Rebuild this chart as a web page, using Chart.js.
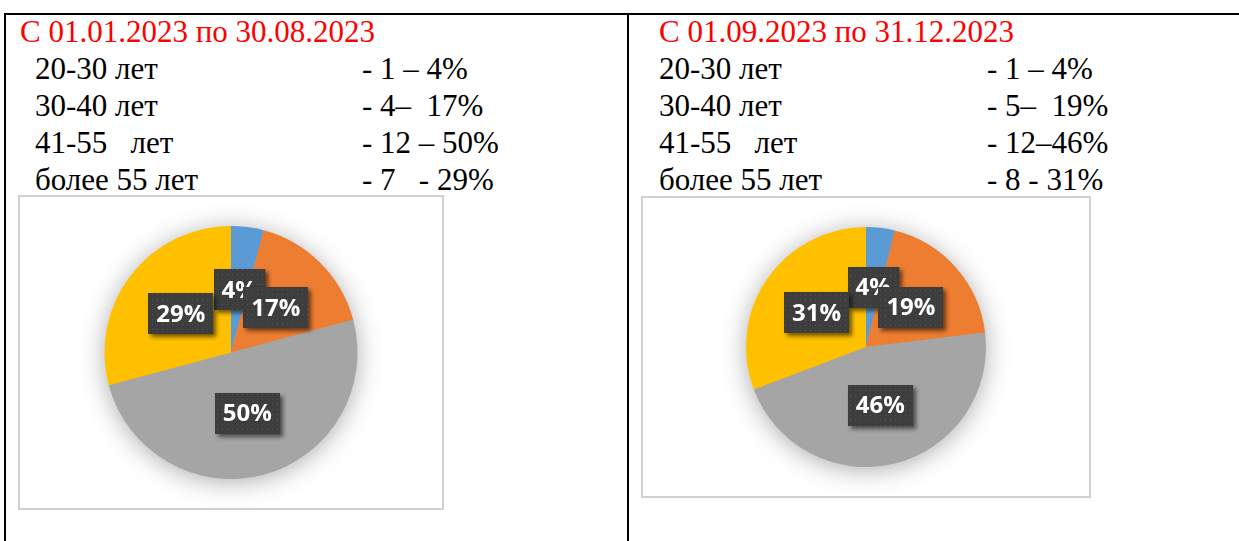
<!DOCTYPE html>
<html>
<head>
<meta charset="utf-8">
<script src="https://cdn.jsdelivr.net/npm/chart.js@4/dist/chart.umd.min.js"></script>
<style>
  html, body { margin: 0; padding: 0; background: #fff; }
  body { width: 1239px; height: 541px; position: relative; overflow: hidden; }
  .rule { position: absolute; background: #000; }
  .txt {
    position: absolute;
    font-family: "Liberation Serif", Tinos, "Times New Roman", Times, "DejaVu Serif", serif;
    font-size: 31px;
    line-height: 37px;
    white-space: pre;
    color: #000;
  }
  .title { color: #ff0000; }
  .box { position: absolute; border: 2px solid #d0d0d0; box-sizing: border-box; background: #fff; }
  .box canvas { display: block; }
</style>
</head>
<body>
<div class="rule" style="left:4px;top:13px;width:1235px;height:2px"></div>
<div class="rule" style="left:4px;top:13px;width:2px;height:528px"></div>
<div class="rule" style="left:627px;top:13px;width:2px;height:528px"></div>

<div id="leftText"></div>
<div id="rightText"></div>

<div class="box" style="left:18px;top:195px;width:426px;height:315px"><canvas id="pieLeft" width="422" height="311"></canvas></div>
<div class="box" style="left:641px;top:196px;width:450px;height:302px"><canvas id="pieRight" width="446" height="298"></canvas></div>

<script>
// ---------- data ----------
const categories = ["20-30 лет", "30-40 лет", "41-55   лет", "более 55 лет"];
const periodTitles = ["С 01.01.2023 по 30.08.2023", "С 01.09.2023 по 31.12.2023"];
const countsFirst = [1, 4, 12, 7];
const countsSecond = [1, 5, 12, 8];
const noteFirst = ["- 1 – 4%", "- 4–  17%", "- 12 – 50%", "- 7   - 29%"];
const noteSecond = ["- 1 – 4%", "- 5–  19%", "- 12–46%", "- 8 - 31%"];
const sliceColors = ["#5b9bd5", "#ed7d31", "#a5a5a5", "#ffc000"];

// ---------- text block ----------
function addLine(parent, text, x, top, cls) {
  const d = document.createElement("div");
  d.className = "txt" + (cls ? " " + cls : "");
  d.style.left = x + "px";
  d.style.top = top + "px";
  d.textContent = text;
  parent.appendChild(d);
}

function buildText(id, title, cats, notes, xTitle, xLabel, xNote) {
  const el = document.getElementById(id);
  addLine(el, title, xTitle, 13, "title");
  cats.forEach((c, i) => {
    addLine(el, c, xLabel, 50 + i * 37);
    addLine(el, notes[i], xNote, 50 + i * 37);
  });
}

buildText("leftText", periodTitles[0], categories, noteFirst, 20, 35, 362);
buildText("rightText", periodTitles[1], categories, noteSecond, 659, 659, 987);

// ---------- label box pattern (dark, dotted) ----------
const patCanvas = document.createElement("canvas");
patCanvas.width = 5;
patCanvas.height = 5;
const pctx = patCanvas.getContext("2d");
pctx.fillStyle = "#3d3d3d";
pctx.fillRect(0, 0, 5, 5);
pctx.fillStyle = "#545454";
pctx.fillRect(2, 2, 1, 1);

// soft halo behind the pie
const pieShadow = {
  id: "pieShadow",
  beforeDatasetsDraw(chart) {
    const arc = chart.getDatasetMeta(0).data[0];
    if (!arc) return;
    const ctx = chart.ctx;
    ctx.save();
    ctx.shadowColor = "rgba(0,0,0,0.35)";
    ctx.shadowBlur = 26;
    ctx.shadowOffsetX = 0;
    ctx.shadowOffsetY = 3;
    ctx.fillStyle = "#a5a5a5";
    ctx.beginPath();
    ctx.arc(arc.x, arc.y, arc.outerRadius - 1, 0, Math.PI * 2);
    ctx.fill();
    ctx.restore();
  }
};

// percentage labels in dark boxes
const pctLabels = {
  id: "pctLabels",
  afterDatasetsDraw(chart) {
    const ctx = chart.ctx;
    const ds = chart.data.datasets[0];
    const total = ds.data.reduce((a, b) => a + b, 0);
    const pattern = ctx.createPattern(patCanvas, "repeat");
    chart.getDatasetMeta(0).data.forEach((arc, i) => {
      const pos = arc.tooltipPosition();
      const text = Math.round((ds.data[i] / total) * 100) + "%";
      ctx.save();
      ctx.font = "bold 24px 'Open Sans', sans-serif";
      const w = ctx.measureText(text).width + 16;
      const h = 41;
      const x = Math.round(pos.x - w / 2);
      const y = Math.round(pos.y - h / 2);
      ctx.shadowColor = "rgba(0,0,0,0.55)";
      ctx.shadowBlur = 4;
      ctx.shadowOffsetX = 3;
      ctx.shadowOffsetY = 3;
      ctx.fillStyle = pattern;
      ctx.fillRect(x, y, w, h);
      ctx.shadowColor = "transparent";
      ctx.fillStyle = "#ffffff";
      ctx.textAlign = "center";
      ctx.textBaseline = "middle";
      ctx.fillText(text, pos.x, pos.y + 1);
      ctx.restore();
    });
  }
};

function makePie(id, counts) {
  new Chart(document.getElementById(id), {
    type: "pie",
    data: {
      labels: categories,
      datasets: [{
        data: counts,
        backgroundColor: sliceColors,
        borderWidth: 0
      }]
    },
    options: {
      responsive: false,
      animation: false,
      layout: { padding: { top: 29, bottom: 29 } },
      plugins: {
        legend: { display: false },
        tooltip: { enabled: false }
      }
    },
    plugins: [pieShadow, pctLabels]
  });
}

makePie("pieLeft", countsFirst);
makePie("pieRight", countsSecond);
</script>
</body>
</html>
